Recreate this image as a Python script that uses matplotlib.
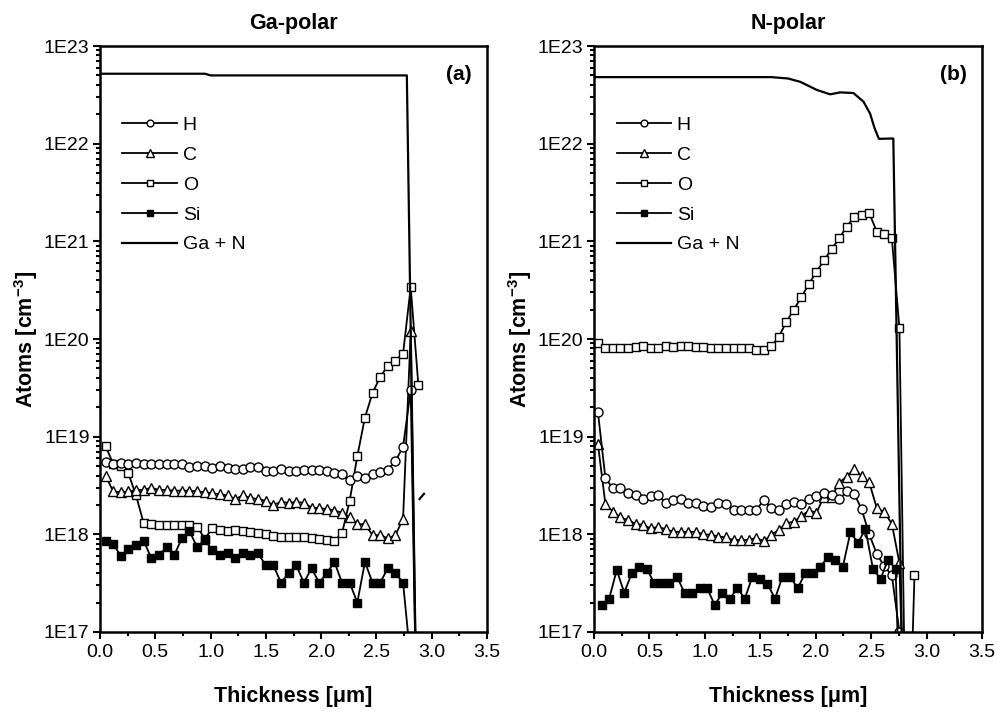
import numpy as np
import matplotlib
matplotlib.use('Agg')
import matplotlib.pyplot as plt
from matplotlib.ticker import FixedLocator, MultipleLocator, FuncFormatter, NullFormatter

plt.rcParams['font.family'] = ['Liberation Sans', 'DejaVu Sans']
plt.rcParams['mathtext.fontset'] = 'custom'
plt.rcParams['mathtext.rm'] = 'Liberation Sans'
plt.rcParams['mathtext.bf'] = 'Liberation Sans:bold'

nan = np.nan
BELOW = 1e15  # below the detection floor, drawn off the bottom of the axes

# ---- (a) Ga-polar ----
depth_a = [0.050, 0.119, 0.188, 0.257, 0.326, 0.395, 0.464, 0.533, 0.602, 0.671,
           0.740, 0.809, 0.878, 0.947, 1.016, 1.085, 1.154, 1.223, 1.292, 1.361,
           1.430, 1.499, 1.568, 1.637, 1.706, 1.775, 1.844, 1.913, 1.982, 2.051,
           2.120, 2.189, 2.258, 2.327, 2.396, 2.465, 2.534, 2.603, 2.672, 2.741,
           2.810, 2.879]
h_a = [5.5e18, 5.2e18, 5.4e18, 5.3e18, 5.4e18, 5.2e18, 5.3e18, 5.3e18, 5.3e18, 5.3e18,
       5.2e18, 4.9e18, 5.0e18, 5.05e18, 4.8e18, 5.0e18, 4.8e18, 4.7e18, 4.7e18, 4.9e18,
       4.9e18, 4.4e18, 4.5e18, 4.7e18, 4.5e18, 4.5e18, 4.6e18, 4.6e18, 4.6e18, 4.4e18,
       4.2e18, 4.1e18, 3.6e18, 4.0e18, 3.8e18, 4.1e18, 4.3e18, 4.6e18, 5.6e18, 7.9e18,
       3.0e19, BELOW]
c_a = [4.0e18, 2.75e18, 2.7e18, 2.75e18, 2.85e18, 2.85e18, 3.0e18, 2.85e18, 2.85e18, 2.8e18,
       2.8e18, 2.8e18, 2.75e18, 2.7e18, 2.63e18, 2.57e18, 2.5e18, 2.3e18, 2.5e18, 2.35e18,
       2.3e18, 2.2e18, 2.0e18, 2.15e18, 2.1e18, 2.15e18, 2.1e18, 1.88e18, 1.85e18, 1.82e18,
       1.75e18, 1.67e18, 1.49e18, 1.27e18, 1.27e18, 9.8e17, 9.8e17, 9.1e17, 9.8e17, 1.45e18,
       1.2e20, BELOW]
o_a = [8.0e18, 5.3e18, 5.0e18, 4.2e18, 2.5e18, 1.3e18, 1.27e18, 1.25e18, 1.25e18, 1.25e18,
       1.24e18, 1.24e18, 1.2e18, 9.0e17, 1.15e18, 1.11e18, 1.09e18, 1.12e18, 1.08e18, 1.06e18,
       1.03e18, 1.0e18, 9.7e17, 9.5e17, 9.3e17, 9.3e17, 9.3e17, 9.1e17, 9.0e17, 8.8e17,
       8.6e17, 1.03e18, 2.2e18, 6.3e18, 1.57e19, 2.8e19, 4.1e19, 5.3e19, 6.0e19, 7.1e19,
       3.4e20, 3.4e19]
si_a = [8.5e17, 8.0e17, 6.0e17, 7.0e17, 7.8e17, 8.6e17, 5.7e17, 6.1e17, 7.4e17, 6.1e17,
        9.1e17, 1.08e18, 7.4e17, 8.7e17, 6.9e17, 6.1e17, 6.5e17, 5.7e17, 6.5e17, 6.1e17,
        6.4e17, 4.8e17, 4.8e17, 3.2e17, 4.0e17, 4.8e17, 3.2e17, 4.5e17, 3.2e17, 4.0e17,
        5.2e17, 3.2e17, 3.2e17, 2.0e17, 5.2e17, 3.2e17, 3.2e17, 4.5e17, 4.0e17, 3.2e17,
        5e16, nan]
ganb_depth_a = [0.0, 0.95, 1.0, 2.775, 2.865, 2.87, 2.89, 2.93]
ganb_a = [5.2e22, 5.2e22, 5.0e22, 5.0e22, 1e16, nan, 2.3e18, 2.6e18]

# ---- (b) N-polar ----
depth_b = [0.035, 0.103, 0.171, 0.239, 0.307, 0.375, 0.443, 0.511, 0.579, 0.647,
           0.715, 0.783, 0.851, 0.919, 0.987, 1.055, 1.123, 1.191, 1.259, 1.327,
           1.395, 1.463, 1.531, 1.599, 1.667, 1.735, 1.803, 1.871, 1.939, 2.007,
           2.075, 2.143, 2.211, 2.279, 2.347, 2.415, 2.483, 2.551, 2.619, 2.687,
           2.755, 2.823, 2.891]
h_b = [1.8e19, 3.75e18, 2.96e18, 2.95e18, 2.63e18, 2.55e18, 2.28e18, 2.45e18, 2.55e18, 2.08e18,
       2.25e18, 2.3e18, 2.08e18, 2.1e18, 1.97e18, 1.9e18, 2.1e18, 2.03e18, 1.78e18, 1.78e18,
       1.76e18, 1.76e18, 2.25e18, 1.85e18, 1.78e18, 2.05e18, 2.12e18, 2.05e18, 2.3e18, 2.45e18,
       2.67e18, 2.55e18, 2.28e18, 2.75e18, 2.6e18, 1.8e18, 1.0e18, 6.3e17, 4.7e17, 3.8e17,
       1.0e17, BELOW, nan]
c_b = [8.5e18, 2.03e18, 1.71e18, 1.49e18, 1.4e18, 1.28e18, 1.25e18, 1.15e18, 1.19e18, 1.13e18,
       1.06e18, 1.06e18, 1.06e18, 1.06e18, 1.0e18, 9.9e17, 9.5e17, 9.3e17, 8.75e17, 8.75e17,
       8.75e17, 9.2e17, 8.5e17, 9.9e17, 1.11e18, 1.3e18, 1.35e18, 1.54e18, 1.75e18, 1.67e18,
       2.43e18, 2.4e18, 3.38e18, 3.9e18, 4.67e18, 3.95e18, 3.4e18, 1.85e18, 1.69e18, 1.28e18,
       5.1e17, BELOW, nan]
o_b = [9.0e19, 8.0e19, 8.0e19, 8.0e19, 8.0e19, 8.2e19, 8.4e19, 8.0e19, 8.0e19, 8.4e19,
       8.2e19, 8.4e19, 8.4e19, 8.2e19, 8.2e19, 8.0e19, 8.0e19, 8.0e19, 8.0e19, 8.0e19,
       8.0e19, 7.8e19, 7.8e19, 8.4e19, 1.05e20, 1.5e20, 2.0e20, 2.7e20, 3.66e20, 4.9e20,
       6.4e20, 8.3e20, 1.07e21, 1.41e21, 1.79e21, 1.86e21, 1.94e21, 1.26e21, 1.2e21, 1.07e21,
       1.3e20, BELOW, 3.8e17]
si_depth_b = [0.069, 0.137, 0.205, 0.273, 0.341, 0.409, 0.477, 0.545, 0.613, 0.681,
              0.749, 0.817, 0.885, 0.953, 1.021, 1.089, 1.157, 1.225, 1.293, 1.361,
              1.429, 1.497, 1.565, 1.633, 1.701, 1.769, 1.837, 1.905, 1.973, 2.041,
              2.109, 2.177, 2.245, 2.313, 2.381, 2.449, 2.517, 2.585, 2.653, 2.721,
              2.789]
si_b = [1.89e17, 2.2e17, 4.3e17, 2.53e17, 4.0e17, 4.67e17, 4.4e17, 3.15e17, 3.15e17, 3.15e17,
        3.7e17, 2.5e17, 2.5e17, 2.8e17, 2.8e17, 1.89e17, 2.5e17, 2.2e17, 2.8e17, 2.2e17,
        3.7e17, 3.5e17, 3.1e17, 2.2e17, 3.7e17, 3.7e17, 2.8e17, 4.0e17, 4.0e17, 4.67e17,
        5.8e17, 5.4e17, 4.67e17, 1.05e18, 8.2e17, 1.13e18, 4.4e17, 3.5e17, 5.5e17, 4.4e17,
        BELOW]
ganb_depth_b = [0.0, 1.6, 1.75, 1.86, 2.01, 2.13, 2.22, 2.34, 2.43, 2.49, 2.53, 2.57, 2.70, 2.79]
ganb_b = [4.8e22, 4.8e22, 4.65e22, 4.3e22, 3.55e22, 3.2e22, 3.35e22, 3.3e22, 2.7e22,
          2.04e22, 1.45e22, 1.12e22, 1.13e22, 1e16]

x_ticks_major = 0.5
y_decades = [17, 18, 19, 20, 21, 22, 23]
labels = ['H', 'C', 'O', 'Si', 'Ga + N']


def draw_panel(ax, d, h, c, o, si_d, si, gn_d, gn, title, tag):
    lo, = ax.plot(d, o, '-', color='k', lw=1.3, marker='s', ms=6, mfc='w', mec='k', mew=1)
    lc, = ax.plot(d, c, '-', color='k', lw=1.3, marker='^', ms=7, mfc='w', mec='k', mew=1)
    lh, = ax.plot(d, h, '-', color='k', lw=1.3, marker='o', ms=6.5, mfc='w', mec='k', mew=1)
    ls, = ax.plot(si_d, si, '-', color='k', lw=1.3, marker='s', ms=6, mfc='k', mec='k')
    lg, = ax.plot(gn_d, gn, '-', color='k', lw=1.6)

    ax.set_yscale('log')
    ax.set_xlim(0, 3.5)
    ax.set_ylim(10.0 ** y_decades[0], 10.0 ** y_decades[-1])

    ax.xaxis.set_major_locator(MultipleLocator(x_ticks_major))
    ax.xaxis.set_minor_locator(MultipleLocator(x_ticks_major / 2))
    ax.xaxis.set_major_formatter(FuncFormatter(lambda v, p: '%.1f' % v))
    # only ticks inside the 1E17..1E23 range
    ax.yaxis.set_major_locator(FixedLocator([10.0 ** e for e in y_decades]))
    ax.yaxis.set_minor_locator(FixedLocator([m * 10.0 ** e for e in y_decades[:-1] for m in range(2, 10)]))
    ax.yaxis.set_major_formatter(FuncFormatter(lambda v, p: '1E%d' % int(round(np.log10(v)))))
    ax.yaxis.set_minor_formatter(NullFormatter())

    ax.tick_params(which='both', direction='out', top=False, right=False,
                   width=1.5, labelsize=14)
    ax.tick_params(which='major', length=5)
    ax.tick_params(which='minor', length=3)
    ax.tick_params(axis='x', pad=3.5)
    ax.tick_params(axis='y', pad=2.5)
    for sp in ax.spines.values():
        sp.set_linewidth(1.8)

    ax.set_title(title, fontsize=15.5, fontweight='bold', pad=12)
    ax.set_xlabel('Thickness [\u03bcm]', fontsize=15.5, fontweight='bold', labelpad=18)
    ax.set_ylabel(r'Atoms [cm$^{\mathbf{-3}}$]', fontsize=15.5, fontweight='bold', labelpad=3)
    ax.text(0.96, 0.968, tag, transform=ax.transAxes, ha='right', va='top',
            fontsize=15, fontweight='bold')

    ax.legend([lh, lc, lo, ls, lg], labels, loc='upper left', bbox_to_anchor=(0.058, 0.88),
              frameon=False, fontsize=14, handlelength=2.8, handletextpad=0.3,
              labelspacing=0.63, borderpad=0, borderaxespad=0, markerscale=0.75, numpoints=1)


fig = plt.figure(figsize=(9.97, 7.12), dpi=100)
ax_a = fig.add_axes([100 / 997, 80 / 712, 387 / 997, 586 / 712])
ax_b = fig.add_axes([594 / 997, 80 / 712, 388 / 997, 586 / 712])

draw_panel(ax_a, depth_a, h_a, c_a, o_a, depth_a, si_a, ganb_depth_a, ganb_a, 'Ga-polar', '(a)')
draw_panel(ax_b, depth_b, h_b, c_b, o_b, si_depth_b, si_b, ganb_depth_b, ganb_b, 'N-polar', '(b)')

fig.savefig('out.png', dpi=100)
